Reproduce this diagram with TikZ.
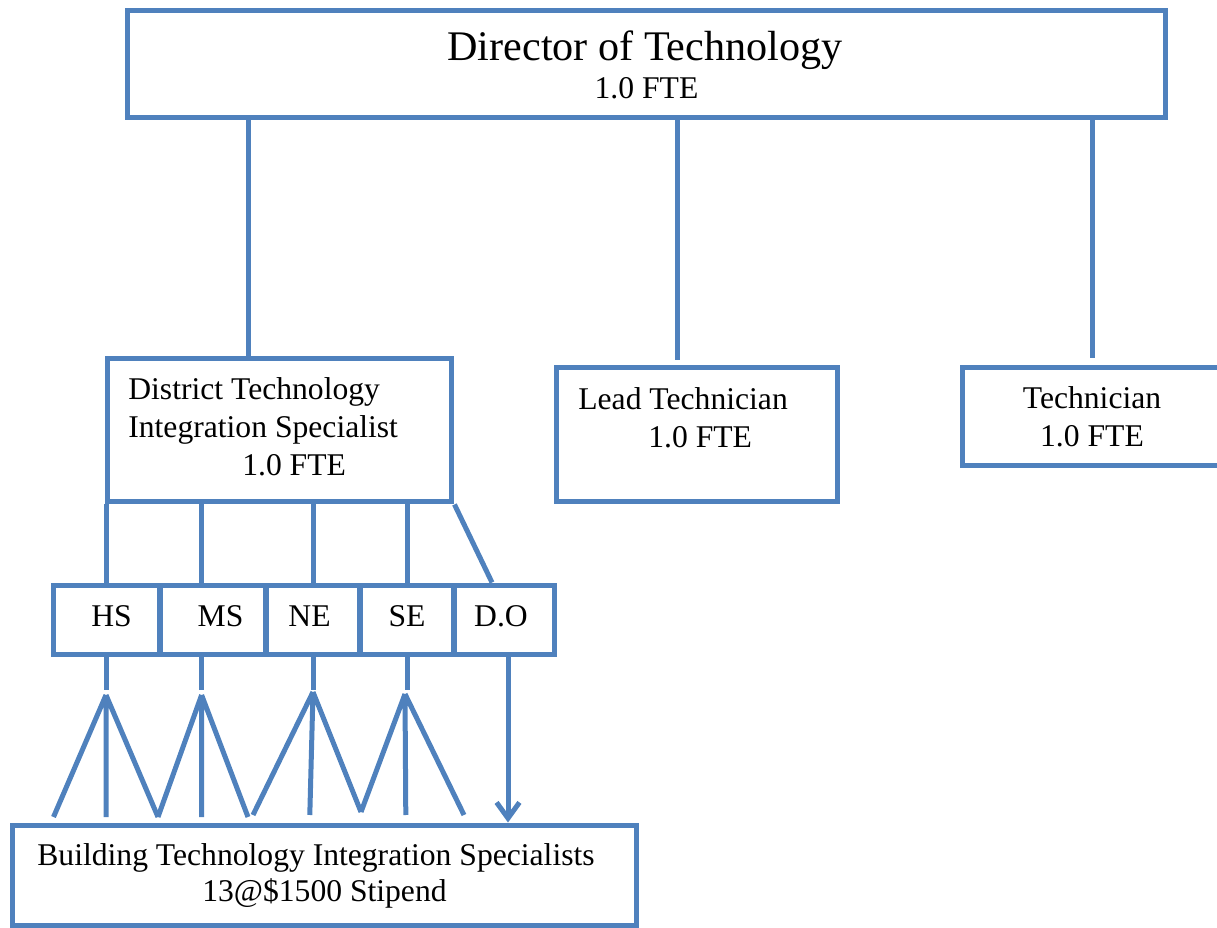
\documentclass[tikz,border=0pt]{standalone}
\usepackage{fontspec}
\setmainfont{Liberation Serif}
\usepackage{tikz}
\usetikzlibrary{arrows.meta}
\definecolor{orgblue}{HTML}{4F81BD}

\begin{document}
\begin{tikzpicture}[x=0.02cm, y=-0.02cm,
    box/.style={draw=orgblue, line width=0.1cm, inner sep=0pt,
                font=\fontsize{18}{21.6}\selectfont},
    unit/.style={box, minimum height=1.4cm, text depth=0.16cm},
    lbl/.style={inner sep=0pt, font=\fontsize{18}{21.6}\selectfont},
    link/.style={draw=orgblue, line width=0.1cm}]
  \useasboundingbox (0,0) rectangle (1217,928);
  % director
  \node[box, minimum width=20.78cm, minimum height=2.16cm] (dir) at (646.5,64) {};
  \node[lbl, anchor=base, font=\fontsize{24}{28}\selectfont] (dirname) at (645,61) {Director of Technology};
  \node[lbl, anchor=base] (dirfte) at (646.5,99) {1.0 FTE};
  % second row
  \node[box, minimum width=6.9cm, minimum height=2.88cm] (dts) at (279.5,430) {};
  \node[lbl, anchor=north west, align=left] (dtsname) at (128,377)
    {District Technology\\Integration Specialist\\\hspace*{2.28cm}1.0 FTE};
  \node[box, minimum width=5.64cm, minimum height=2.7cm] (lead) at (697,434.5) {};
  \node[lbl, anchor=north west, align=left] (leadname) at (578,387)
    {Lead Technician\\\hspace*{1.4cm}1.0 FTE};
  \node[box, minimum width=5.2cm, minimum height=1.98cm, align=center] (tech) at (1092,416.5)
    {Technician\\1.0 FTE};
  \foreach \dx/\n/\gap in {-7.97/dts/0, 0.61/lead/0.1, 8.93/tech/0.14}
    \draw[link, shorten >=\gap cm] ([xshift=\dx cm, yshift=0.08cm]dir.south) -- ([xshift=\dx cm]dir.south |- \n.north);
  % buildings
  \node[unit, minimum width=2.14cm] (hs) at (106.5,620) {\hspace*{0.2cm}HS};
  \node[unit, minimum width=2.12cm] (ms) at (213,620) {\hspace*{0.3cm}MS};
  \node[unit, minimum width=1.88cm] (ne) at (313,620) {NE\hspace*{0.14cm}};
  \node[unit, minimum width=1.88cm] (se) at (407,620) {SE};
  \node[unit, minimum width=2.02cm] (do) at (504.5,620) {D.O\hspace*{0.14cm}};
  \foreach \n/\dx in {hs/0, ms/-0.23, ne/0, se/0} {
    \draw[link] ([xshift=\dx cm]\n.north) -- ([xshift=\dx cm]\n.north |- dts.south);
    \draw[link] ([xshift=\dx cm]\n.south) -- ++(0,33);
  }
  \draw[link] (dts.south east) -- ([xshift=-0.25cm]do.north);
  % specialists
  \node[box, minimum width=12.5cm, minimum height=2.02cm, align=center,
        font=\fontsize{18}{20.5}\selectfont] (bts) at (324.5,875.5)
    {\hspace*{-0.34cm}Building Technology Integration Specialists\\13@\$1500 Stipend};
  \coordinate (a1) at (106,695);
  \coordinate (a2) at (201.6,695);
  \coordinate (a3) at (313,692);
  \coordinate (a4) at (405,694);
  \draw[link] (a1) -- ++(-52.5,122) (a1) -- ++(0,122) (a1) -- ++(52,122);
  \draw[link] (a2) -- ++(-43.6,122) (a2) -- ++(0,122) (a2) -- ++(46.4,122);
  \draw[link] (a3) -- ++(-60,123) (a3) -- ++(-3.2,123) (a3) -- ++(48,120);
  \draw[link] (a4) -- ++(-44,118) (a4) -- ++(0.8,121) (a4) -- ++(59,121);
  \draw[link, -{Straight Barb[length=9pt, width=13pt]}] ([xshift=0.07cm]do.south)
    -- ([xshift=0.07cm]do.south |- bts.north);
\end{tikzpicture}
\end{document}
